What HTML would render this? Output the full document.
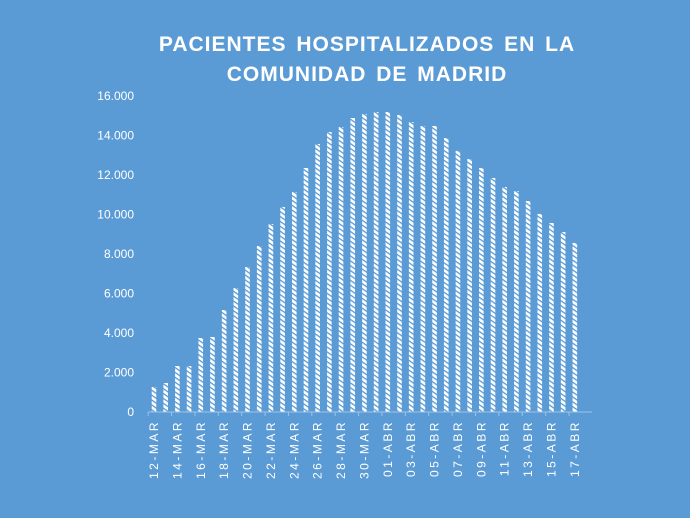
<!DOCTYPE html>
<html><head><meta charset="utf-8"><style>
html,body{margin:0;padding:0;background:#5B9BD5;}
svg{display:block;font-family:"Liberation Sans",Arial,sans-serif;}
</style></head><body>
<svg id="chart" width="690" height="518" viewBox="0 0 690 518">
<defs>
<pattern id="hatch" patternUnits="userSpaceOnUse" width="4" height="4" patternTransform="rotate(35)">
<rect width="4" height="4" fill="#ffffff"/>
<rect width="4" height="1.3" fill="#5B9BD5"/>
</pattern>
</defs>
<rect width="690" height="518" fill="#5B9BD5"/>
<text x="367" y="51" text-anchor="middle" fill="#fff" font-size="21" font-weight="bold" letter-spacing="1" word-spacing="3">PACIENTES HOSPITALIZADOS EN LA</text>
<text x="367" y="81" text-anchor="middle" fill="#fff" font-size="21" font-weight="bold" letter-spacing="1" word-spacing="3">COMUNIDAD DE MADRID</text>
<g id="yaxis"></g><g id="bars"></g><g id="xaxis"></g>
</svg>
<script>
const categories=["12-MAR","13-MAR","14-MAR","15-MAR","16-MAR","17-MAR","18-MAR","19-MAR","20-MAR","21-MAR","22-MAR","23-MAR","24-MAR","25-MAR","26-MAR","27-MAR","28-MAR","29-MAR","30-MAR","31-MAR","01-ABR","02-ABR","03-ABR","04-ABR","05-ABR","06-ABR","07-ABR","08-ABR","09-ABR","10-ABR","11-ABR","12-ABR","13-ABR","14-ABR","15-ABR","16-ABR","17-ABR"];
const values=[1266,1468,2329,2329,3747,3797,5164,6278,7342,8405,9519,10380,11139,12354,13570,14177,14430,14886,15089,15190,15190,15040,14680,14480,14480,13870,13220,12810,12350,11850,11390,11190,10680,10030,9570,9110,8560];
const yTicks=[0,2000,4000,6000,8000,10000,12000,14000,16000];
const yTickLabels=["0","2.000","4.000","6.000","8.000","10.000","12.000","14.000","16.000"];
const NS="http://www.w3.org/2000/svg";
const y0=412,y1=96,yMax=16000;
const y=v=>y0-(v/yMax)*(y0-y1);
const step=11.69;
const xStart=154-step/2;
const x=i=>xStart+step*(i+0.5);
function mk(t,a,p){const e=document.createElementNS(NS,t);for(const k in a)e.setAttribute(k,a[k]);p.appendChild(e);return e;}
const ya=document.getElementById('yaxis');
yTicks.forEach((v,i)=>{
 const t=mk('text',{x:134,y:y(v)+4,'text-anchor':'end',fill:'#fff','font-size':12},ya);
 
 
 t.textContent=yTickLabels[i];
});
const bg=document.getElementById('bars');
values.forEach((v,i)=>{
 const r=mk('rect',{x:x(i)-2.3,y:y(v),width:4.6,height:y0-y(v),fill:'url(#hatch)'},bg);
 
 
});
const xa=document.getElementById('xaxis');
const ax=mk('line',{x1:xStart,y1:y0,x2:592,y2:y0,stroke:'#9dc3e6','stroke-width':1},xa);


for(let i=0;i<=categories.length;i+=2){
 const tx=xStart+step*i;
 const tk=mk('line',{x1:tx,y1:y0,x2:tx,y2:y0+4,stroke:'#9dc3e6'},xa);
 
 
}
categories.forEach((c,i)=>{
 if(i%2)return;
 const lx=x(i)+4,ly=420;
 const t=mk('text',{x:lx,y:ly,'text-anchor':'end',fill:'#fff','font-size':12,'letter-spacing':'2.5',transform:`rotate(-90 ${lx} ${ly})`},xa);
 
 
 t.textContent=c;
});
</script>
</body></html>
